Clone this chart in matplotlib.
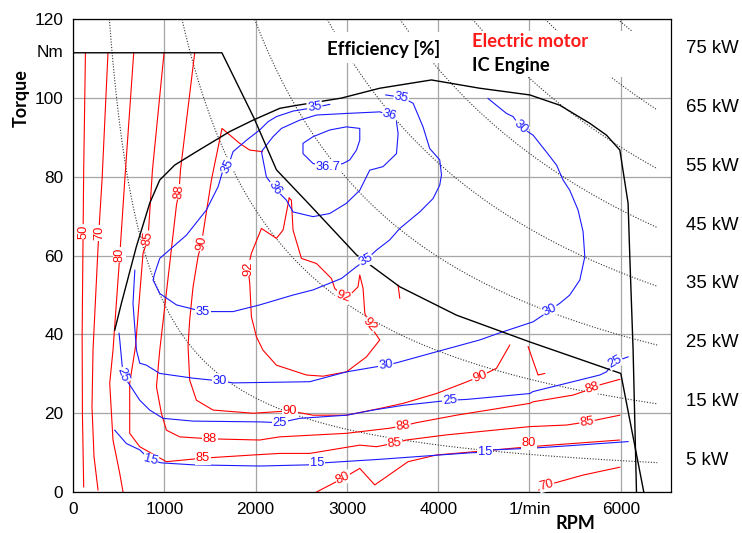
import matplotlib.pyplot as plt
import numpy as np
from matplotlib.patches import Rectangle

plt.rcParams['font.family'] = ['Liberation Sans', 'DejaVu Sans']

# ---- data (rpm, Nm) ----
power_kw = [5, 15, 25, 35, 45, 55, 65, 75]

motor_env = [(0, 111.5), (1631, 111.5), (1983, 94.9), (2228, 81.8), (2593, 72.9), (3105, 60.2),
             (3579, 52.1), (4200, 44.9), (5003, 38.1), (6000, 30.1), (6252, 0)]
engine_full = [(457, 41.1), (530, 47.9), (694, 62.3), (840, 73.3), (950, 79.2), (1114, 83),
               (1352, 86.4), (1717, 91.5), (1972, 94.4), (2265, 97.4), (2410, 98), (2940, 100),
               (3360, 102.5), (3926, 104.6), (4455, 102.5), (5003, 100.8), (5331, 98.2),
               (5660, 93.6), (5843, 90.6), (5990, 86.8), (6080, 73.3), (6099, 59.7),
               (6135, 36), (6172, 0)]

# electric motor efficiency [%]
em_50 = [(136, 111.5), (117, 81.7), (108, 60), (100, 40), (103, 20), (117, 1.3)]
em_70 = [(383, 111.5), (318, 79.2), (292, 69.5), (274, 62), (219, 36), (208, 21.6),
         (230, 9), (274, 0.5)]
em_80 = [(665, 111.5), (567, 79.2), (512, 60), (438, 36), (402, 27.6), (438, 13.2),
         (512, 4.7), (548, 0)]
em_85 = [(997, 111.5), (870, 81.7), (822, 64.4), (767, 60.6), (685, 37), (621, 27.6),
         (621, 14.9), (731, 11.5), (1023, 7.7), (1424, 8.6), (1972, 9.4), (2264, 9.8),
         (2593, 9.8), (3141, 11.9), (3324, 11.5), (3524, 12.4), (3652, 13.2), (4090, 14.5),
         (5003, 16.6), (5405, 17), (5631, 17.8), (5989, 19.5)]
em_88 = [(1333, 111.5), (1177, 81.7), (1161, 76.2), (1133, 72.8), (950, 36), (914, 26.7),
         (968, 20), (1023, 15.7), (1169, 14), (1498, 13.5), (2045, 13.2), (2264, 14),
         (2995, 14.9), (3469, 16.2), (3615, 16.8), (3762, 17.6), (4200, 19.5), (5003, 22.5),
         (5039, 22.9), (5477, 24.6), (5690, 26.3), (5770, 27.2), (5989, 28.6)]
em_90 = [(2075, 86.4), (1936, 86.8), (1826, 88.5), (1632, 92.3), (1516, 79.2), (1407, 63.1),
         (1369, 59.7), (1315, 52.1), (1278, 43.7), (1260, 37), (1278, 28.4), (1352, 23.3),
         (1534, 20.8), (1972, 20), (2374, 20.6), (2629, 19.5), (2995, 19.5), (3360, 21.2),
         (3615, 22.5), (3981, 25), (4272, 27.6), (4455, 29.3), (4638, 31.4), (4784, 37.3)]
em_92 = [(2368, 74.6), (2301, 66.5), (2228, 64.4), (2064, 66.9), (1954, 60.6), (1917, 56.8),
         (1936, 53), (1954, 44.5), (2009, 39.4), (2081, 36), (2228, 32.2), (2557, 29.7),
         (2739, 29.4), (2995, 30.5), (3214, 34.3), (3360, 38.6), (3250, 42.4), (3196, 45.4),
         (3177, 51.7), (3141, 55.1), (3122, 52.1), (3050, 50.4), (2958, 49.6), (2867, 51.7),
         (2831, 54.2), (2667, 58), (2502, 59.3), (2410, 66.5), (2392, 74.1), (2368, 74.6)]
em_80_low = [(2667, 0), (2958, 3.5), (3141, 6), (3305, 1.8), (3670, 7.7), (3981, 9.4),
             (4382, 10.2), (5003, 11.5), (5989, 13.2)]
em_70_low = [(5102, 0.5), (5186, 1.8), (5277, 2.3), (5587, 4.3), (5989, 6.3)]
em_bits = [[(3561, 52.5), (3579, 49.2)],
           [(4985, 36.9), (5094, 29.7), (5167, 30.1)]]

# IC engine efficiency [%]
ice_15 = [(457, 15.7), (585, 12.3), (731, 10.7), (848, 8.1), (968, 7.4), (1315, 6.9),
          (2045, 6.6), (2593, 6.9), (2673, 7.3), (3360, 8.3), (4017, 9.4), (4382, 10),
          (4510, 10), (4601, 10.7), (5003, 11.1), (5405, 11.7), (6080, 12.8)]
ice_25 = [(504, 40.3), (512, 38.6), (548, 29.7), (621, 27.2), (731, 23.3), (840, 20.8),
          (986, 18.7), (1315, 18), (2045, 17.8), (2264, 17.6), (2483, 18.7), (2995, 19.5),
          (3287, 20.8), (3615, 22), (4127, 23.3), (4309, 23.5), (4638, 24.2), (5003, 25),
          (5039, 25.5), (5405, 27.6), (5770, 29.7), (5843, 30.5), (5934, 33.1), (6080, 34.3)]
ice_30 = [(677, 56.3), (657, 47.9), (695, 36), (731, 32.7), (804, 32.2), (950, 30.1),
          (1315, 28.9), (1607, 28.2), (1753, 27.7), (2593, 28), (2995, 30.5), (3324, 31.8),
          (3426, 32.2), (3543, 32.8), (3981, 35.6), (4455, 38.6), (4674, 40.4), (5039, 43.2),
          (5149, 44.9), (5223, 46.2), (5332, 47.9), (5441, 50), (5551, 53.8), (5606, 59.7),
          (5587, 66.1), (5532, 71.6), (5441, 76.6), (5368, 79.2), (5296, 83), (5186, 86.3),
          (5039, 90.6), (4901, 92.7), (4820, 95.3), (4748, 96.1), (4546, 99.9)]
ice_35 = [(2812, 98.4), (2648, 97.6), (2593, 97.4), (2410, 96.7), (2228, 95.3), (2136, 94),
          (2045, 91.9), (1900, 89.3), (1753, 86.4), (1698, 82.6), (1643, 81.7), (1589, 77.5),
          (1461, 71.6), (1242, 65.2), (950, 59.3), (895, 55.5), (877, 53.8), (950, 50.4),
          (1133, 47.5), (1424, 45.8), (1753, 45.8), (2045, 47.5), (2410, 50), (2629, 51.3),
          (2940, 54.2), (3105, 57.2), (3207, 58.9), (3324, 61.4), (3469, 64), (3579, 66.9),
          (3798, 71.1), (3944, 74.5), (4017, 77.9), (4036, 80.5), (4017, 84.3), (3907, 87.2),
          (3834, 92.7), (3725, 98.7), (3598, 100.2), (3426, 100.8)]
ice_36 = [(3469, 95.7), (3360, 96.5), (2995, 96.1), (2667, 95.7), (2483, 94.4), (2283, 92.3),
          (2191, 90.2), (2064, 86.4), (2118, 80), (2209, 77.1), (2337, 74.1), (2410, 71.1),
          (2629, 69.9), (2812, 70.7), (2995, 73.3), (3141, 76.6), (3250, 81.7), (3396, 82.6),
          (3543, 85.9), (3561, 91), (3543, 94), (3469, 95.7)]
ice_367 = [(2794, 82.6), (2629, 83.4), (2519, 85.9), (2519, 88.5), (2629, 90.2), (2812, 91.9),
           (2995, 92.7), (3141, 92.3), (3141, 89.3), (3105, 86.8), (3031, 84.3), (2958, 83.4),
           (2794, 82.6)]

# contour labels: text, rpm, Nm, angle
em_labels = [("50", 110, 66.1, 90), ("70", 285, 65.7, 90), ("80", 512, 60.1, 90),
             ("85", 822, 64.4, 80), ("88", 1161, 76.2, 85), ("90", 1407, 63.1, 80),
             ("92", 1917, 56.8, 90), ("92", 2958, 49.6, -20), ("92", 3250, 42.4, -50),
             ("90", 2374, 20.6, 0), ("90", 4455, 29.3, 20), ("88", 1498, 13.5, 0),
             ("88", 3615, 16.8, 8), ("88", 5690, 26.3, 18), ("85", 1424, 8.6, 0),
             ("85", 3524, 12.4, 5), ("85", 5631, 17.8, 8), ("80", 2958, 3.5, 25),
             ("80", 4995, 12.4, 0), ("70", 5186, 1.8, 15)]
ice_labels = [("15", 848, 8.1, -15), ("15", 2673, 7.3, 0), ("15", 4510, 10.1, 0),
              ("25", 548, 29.7, -70), ("25", 2264, 17.6, 0), ("25", 4127, 23.3, 5),
              ("25", 5934, 33.1, 30), ("30", 1607, 28.2, 0), ("30", 3426, 32.2, 8),
              ("30", 5223, 46.2, 25), ("30", 4901, 92.7, -45), ("35", 1424, 45.8, 0),
              ("35", 3207, 58.9, 30), ("35", 3598, 100.2, -12), ("35", 2648, 97.6, 8),
              ("35", 1698, 82.6, 65), ("36", 3469, 95.7, -15), ("36", 2209, 77.1, -55),
              ("36.7", 2794, 82.6, 0)]

x_ticks = [0, 1000, 2000, 3000, 4000, 5000, 6000]
x_labels = ['0', '1000', '2000', '3000', '4000', '1/min', '6000']
y_ticks = [0, 20, 40, 60, 80, 100, 120]

fig = plt.figure(figsize=(7.42, 5.33), dpi=100)
ax = fig.add_axes([0.0984, 0.0769, 0.8059, 0.8869])
ax.set_xlim(0, 6550)
ax.set_ylim(0, 120)
ax.set_xticks(x_ticks)
ax.set_xticklabels(x_labels)
ax.set_yticks(y_ticks)
ax.tick_params(length=0, labelsize=12.4, pad=7)
ax.grid(True, color='#a6a6a6', lw=0.9)
ax.set_axisbelow(True)
for s in ax.spines.values():
    s.set_color('black')
    s.set_linewidth(0.9)


def draw(pts, color, lw=0.8, **kw):
    a = np.array(pts)
    ax.plot(a[:, 0], a[:, 1], color=color, lw=lw, **kw)


# constant power hyperbolas
for p in power_kw:
    n = np.linspace(9549 * p / 120, 6400, 300)
    ax.plot(n, 9549 * p / n, color='#333333', lw=0.8, ls=(0, (1, 1.5)))
    ax.text(6712, 9549 * p / 6400 + 0.6, f"{p} kW", fontsize=13.4, va='center',
            ha='left', clip_on=False)

for c in [em_50, em_70, em_80, em_85, em_88, em_90, em_92, em_80_low, em_70_low] + em_bits:
    draw(c, 'red')
for c in [ice_15, ice_25, ice_30, ice_35, ice_36, ice_367]:
    draw(c, '#1a1aff')

draw(motor_env, 'black', lw=1.0)
draw(engine_full, 'black', lw=1.0)

for t, x, y, r in em_labels:
    ax.text(x, y, t, color='red', fontsize=9.3, rotation=r, ha='center', va='center',
            rotation_mode='anchor', zorder=5,
            bbox=dict(boxstyle='square,pad=0.05', fc='white', ec='none'))
for t, x, y, r in ice_labels:
    ax.text(x, y, t, color='#1a1aff', fontsize=9.3, rotation=r, ha='center', va='center',
            rotation_mode='anchor', zorder=5,
            bbox=dict(boxstyle='square,pad=0.05', fc='white', ec='none'))

# white boxes behind the legend texts
ax.add_patch(Rectangle((0.416, 0.908), 0.206, 0.065, transform=ax.transAxes,
                       fc='white', ec='none', zorder=4))
ax.add_patch(Rectangle((0.655, 0.8775), 0.326, 0.0975, transform=ax.transAxes,
                       fc='white', ec='none', zorder=4))
ax.text(0.4242, 0.9245, "Efficiency [%]", transform=ax.transAxes, fontsize=13.4,
        fontweight='bold', family='Lato', zorder=6)
ax.text(0.668, 0.942, "Electric motor", transform=ax.transAxes, fontsize=13.2,
        fontweight='bold', family='Lato', color='#ff1a1a', zorder=6)
ax.text(0.668, 0.891, "IC Engine", transform=ax.transAxes, fontsize=13.2,
        fontweight='bold', family='Lato', zorder=6)

# 'Nm' unit at the left
ax.text(-0.016, 111.5, "Nm", transform=ax.get_yaxis_transform(), fontsize=12.4,
        ha='right', va='center')

fig.text(0.776, 0.017, "RPM", fontsize=13, fontweight='bold', family='Lato',
         ha='center', va='center')
fig.text(0.0292, 0.816, "Torque", fontsize=13, fontweight='bold', family='Lato',
         ha='center', va='center', rotation=90)

fig.savefig('out.png', dpi=100)
